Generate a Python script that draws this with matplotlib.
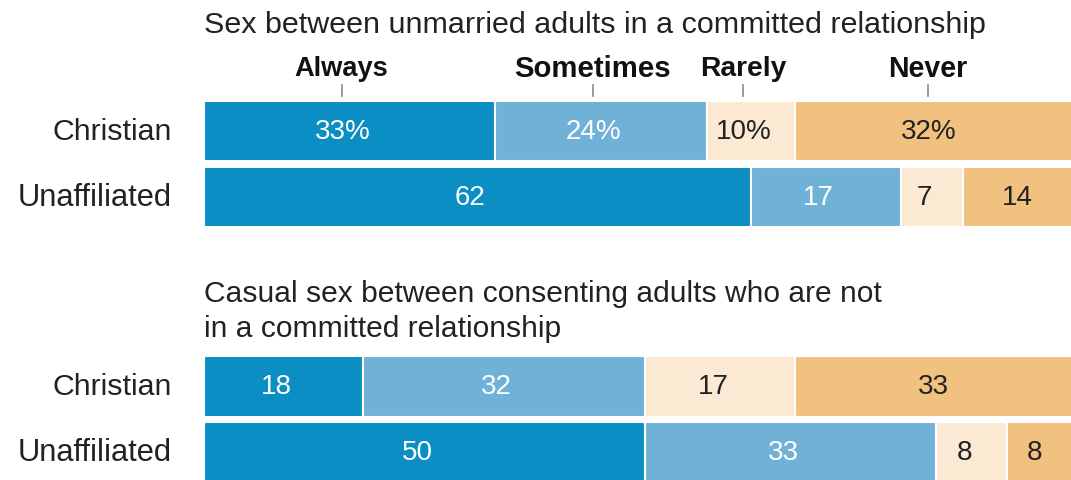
import matplotlib
matplotlib.use("Agg")
import matplotlib.pyplot as plt

# === data ===============================================================
groups = ["Christian", "Unaffiliated"]
answers = ["Always", "Sometimes", "Rarely", "Never"]
titles = ["Sex between unmarried adults in a committed relationship",
          "Casual sex between consenting adults who are not\nin a committed relationship"]
values_committed = [[33, 24, 10, 32],
                    [62, 17, 7, 14]]
values_casual = [[18, 32, 17, 33],
                 [50, 33, 8, 8]]

colors = ["#0a8ec3", "#70b2d7", "#fbe9d3", "#f1c27f"]
text_colors = ["white", "white", "#222222", "#222222"]

W, H = 1071, 481
FONT = ["Liberation Sans", "DejaVu Sans"]

fig = plt.figure(figsize=(W / 100, H / 100), dpi=100)
fig.patch.set_facecolor("white")
renderer = fig.canvas.get_renderer()


def fit_width(t, target_px):
    # the reference uses a condensed face; shrink the font to the same width
    w = t.get_window_extent(renderer).width
    t.set_fontsize(t.get_fontsize() * target_px / w)


def px_axes(top, bottom):
    left = 204 / W
    return fig.add_axes([left, 1 - bottom / H, 1 - left, (bottom - top) / H])


def draw_panel(ax, values, first_pct):
    for r, row in enumerate(values):
        left = 0
        for c, v in enumerate(row):
            ax.barh(r, v, left=left, height=0.91, color=colors[c],
                    edgecolor="white", linewidth=1.5)
            lab = f"{v}%" if (first_pct and r == 0) else f"{v}"
            ax.text(left + v / 2 - 0.8, r, lab, ha="center", va="center",
                    fontsize=20, color=text_colors[c], family=FONT)
            left += v
        t = ax.text(-3.6, r, groups[r], ha="right", va="center",
                    fontsize=20, color="#222222", family=FONT, clip_on=False)
        fit_width(t, 154 if groups[r] == "Unaffiliated" else 119)
    ax.set_xlim(0, 98.3)
    ax.set_ylim(1.5, -0.5)
    ax.axis("off")


# top panel: rows centred at 132 / 198 px
ax1 = px_axes(99, 231)
draw_panel(ax1, values_committed, True)

# answer headers + ticks above the first bar
head_w = [94, 157, 86, 79]
left = 0
for c, v in enumerate(values_committed[0]):
    xc = left + v / 2 - 0.9
    t = ax1.text(xc, -0.95, answers[c], ha="center", va="center", fontsize=19,
                 fontweight="bold", color="#111111", family=FONT, clip_on=False)
    fit_width(t, head_w[c])
    ax1.plot([xc, xc], [-0.69, -0.53], color="#888888", lw=1.2, clip_on=False)
    left += v

# bottom panel: rows centred at 387.5 / 453.5 px
ax2 = px_axes(354.5, 486.5)
draw_panel(ax2, values_casual, False)

t1 = fig.text(204 / W, 1 - 33 / H, titles[0], ha="left", va="baseline",
              fontsize=20, color="#222222", family=FONT)
fit_width(t1, 781)
t2 = fig.text(204 / W, 1 - 337 / H, titles[1], ha="left", va="baseline",
              fontsize=20, color="#222222", family=FONT, linespacing=1.3)
fit_width(t2, 676)

fig.savefig("out.png", dpi=100, facecolor="white")
